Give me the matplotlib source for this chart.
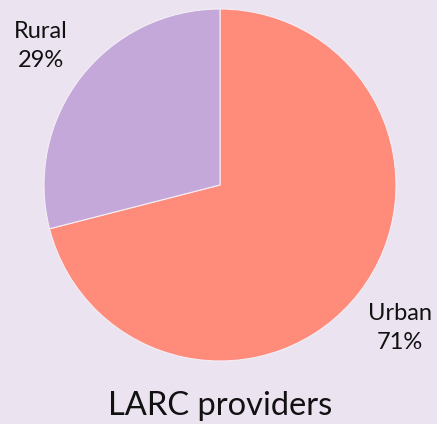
import matplotlib
matplotlib.use("Agg")
from matplotlib import pyplot as plt

labels = ["Urban", "Rural"]
shares = [71, 29]
colors = ["#FF8B7B", "#C4A8D9"]
title = "LARC providers"

BG = "#ECE3F1"
W, H = 437, 424

plt.rcParams["font.family"] = ["Lato", "DejaVu Sans"]

fig = plt.figure(figsize=(W / 100, H / 100), dpi=100, facecolor=BG)
ax = fig.add_axes([0, 0, 1, 1])
ax.set_facecolor(BG)

cx, cy, r = 220, H - 185, 176
ax.pie(shares, colors=colors, startangle=90, counterclock=False,
       center=(cx, cy), radius=r, frame=True,
       wedgeprops=dict(edgecolor="#F4EEF6", linewidth=0.8))
ax.set_xlim(0, W)
ax.set_ylim(0, H)
ax.set_aspect("equal")
ax.axis("off")

# outside labels
label_pos = {"Urban": (400, H - 328), "Rural": (41, H - 46)}
for lab, val in zip(labels, shares):
    x, y = label_pos[lab]
    ax.text(x, y, "%s\n%d%%" % (lab, val), ha="center", va="center",
            fontsize=17, color="#111111", linespacing=1.45)

ax.text(cx, H - 406, title, ha="center", va="center", fontsize=23.5,
        color="#111111")

fig.savefig("out.png", dpi=100, facecolor=BG)
